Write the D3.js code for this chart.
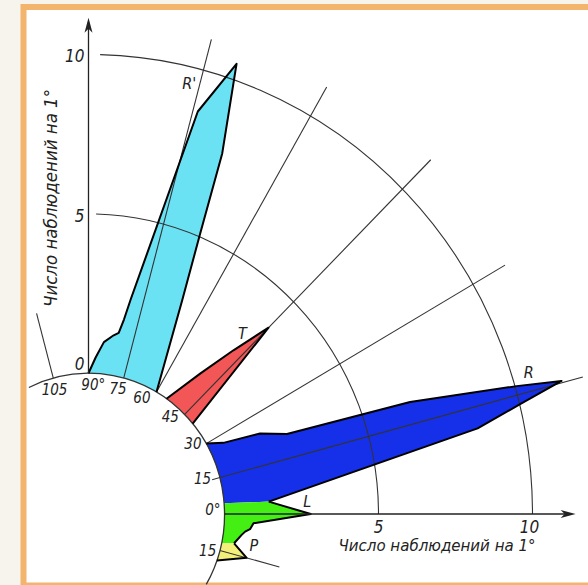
<!DOCTYPE html>
<html>
<head>
<meta charset="utf-8">
<script src="https://cdn.jsdelivr.net/npm/d3@7"></script>
<style>
    body { margin: 0; background: #f6f4ed; }
    svg { display: block; }
    text {
        font-family: "Liberation Sans Narrow", "DejaVu Sans Condensed", "Liberation Sans", sans-serif;
        font-style: italic;
        fill: #222;
    }
</style>
</head>
<body>
<svg id="chart"></svg>
<script>
// 花瓣数据：方位角（度）与每 1° 的观测数
const rPrimeAngles = [90, 87.3, 84.7, 81.7, 80.2, 79.3, 78.5, 74.3, 71.2, 69, 67.6, 65.6, 60]
const rPrimeCounts = [0, 0.5, 1.0, 1.25, 1.35, 1.8, 2.45, 8.7, 10.5, 7.7, 5.1, 2.95, 0]

const tAngles = [55, 50.5, 47.5, 45, 40]
const tCounts = [0, 1.3, 2.55, 3.85, 0]

const rAngles = [30, 27, 24.4, 21.3, 18.6, 16.1, 15.2, 13.8, 12, 3.8, 4.4]
const rCounts = [0, 0.5, 1.7, 2.5, 6.6, 10.05, 11.5, 10.0, 8.5, 1.45, 0]

const lAngles = [4.4, 3.8, 0, -3.1, -5.2, -6.2, -7.5, -11, -12]
const lCounts = [0, 1.45, 2.8, 0.95, 0.85, 0.7, 0.6, 0.4, 0]

const pAngles = [-12, -11, -15, -19.3]
const pCounts = [0, 0.4, 0.9, 0]

// 刻度
const countTicks = [0, 5, 10]
const angleTicks = [105, 90, 75, 60, 45, 30, 15, 0, -15]
const angleTickLabels = ['105', '90°', '75', '60', '45', '30', '15', '0°', '15']
const spokeAngles = [105, 75, 60, 45, 30, 15, -15]
const spokeEnds = [2.1, 11.0, 11.05, 11.3, 11.2, 12.2, 2.0]
const axisTitle = 'Число наблюдений на 1°'

const width = 588
const height = 585
const cx = 88.5
const cy = 514
const sy = 1.035

const rad = d => d * Math.PI / 180
const r = d3.scaleLinear().domain([0, 10]).range([136, 444])
const px = (a, n) => cx + r(n) * Math.cos(rad(a))
const py = (a, n) => cy - sy * r(n) * Math.sin(rad(a))

const arcPath = (n, a0, a1, move = true) => {
    const start = move ? `M${px(a0, n)},${py(a0, n)}` : ''
    const large = Math.abs(a1 - a0) > 180 ? 1 : 0
    const sweep = a0 < a1 ? 0 : 1
    return `${start}A${r(n)},${sy * r(n)} 0 ${large} ${sweep} ${px(a1, n)},${py(a1, n)}`
}

const line = d3.line().x(d => px(d.a, d.n)).y(d => py(d.a, d.n))

const petals = [
    { angles: rPrimeAngles, counts: rPrimeCounts, fill: '#6be2f3', outline: [0, 12] },
    { angles: tAngles, counts: tCounts, fill: '#f25656', outline: [0, 4] },
    { angles: rAngles, counts: rCounts, fill: '#1630ea', outline: [0, 9] },
    { angles: lAngles, counts: lCounts, fill: '#44f014', outline: [1, 7] },
    { angles: pAngles, counts: pCounts, fill: '#f2ef7a', outline: [1, 3] },
]

const svg = d3.select('#chart').attr('width', width).attr('height', height)

// 外框
svg.append('rect')
    .attr('x', 23.5).attr('y', 7)
    .attr('width', 600).attr('height', 578.5)
    .attr('fill', '#fff')
    .attr('stroke', '#f3b46d')
    .attr('stroke-width', 6)

// 花瓣填充
petals.forEach(p => {
    const pts = p.angles.map((a, i) => ({ a, n: p.counts[i] }))
    const last = p.angles[p.angles.length - 1]
    svg.append('path')
        .attr('d', line(pts) + arcPath(0, last, p.angles[0], false) + 'Z')
        .attr('fill', p.fill)
        .attr('stroke', 'none')
})

// 网格弧线
const grid = svg.append('g').attr('fill', 'none').attr('stroke', '#333').attr('stroke-width', 1.1)
countTicks.filter(n => n > 0).forEach(n => {
    grid.append('path').attr('d', arcPath(n, 0, 88.5))
})
grid.append('path').attr('d', arcPath(0, -30, 116)).attr('stroke-width', 1.3)

// 径向线
spokeAngles.forEach((a, i) => {
    grid.append('line')
        .attr('x1', px(a, 0)).attr('y1', py(a, 0))
        .attr('x2', px(a, spokeEnds[i])).attr('y2', py(a, spokeEnds[i]))
})

// 15° 标签旁的短划线
grid.append('line')
    .attr('x1', cx + 128 * Math.cos(rad(15))).attr('y1', cy - sy * 128 * Math.sin(rad(15)))
    .attr('x2', px(15, 0)).attr('y2', py(15, 0))

// 花瓣轮廓
petals.forEach(p => {
    const pts = p.angles.map((a, i) => ({ a, n: p.counts[i] }))
        .slice(p.outline[0], p.outline[1] + 1)
    svg.append('path')
        .attr('d', line(pts))
        .attr('fill', 'none')
        .attr('stroke', '#000')
        .attr('stroke-width', 2)
        .attr('stroke-linejoin', 'round')
})

// 坐标轴与箭头
const axes = svg.append('g').attr('stroke', '#222').attr('stroke-width', 1.3)
const yTop = 11.15
const xEnd = 11.4
axes.append('line')
    .attr('x1', px(90, 0)).attr('y1', py(90, 0))
    .attr('x2', px(90, yTop)).attr('y2', py(90, yTop) + 4)
axes.append('line')
    .attr('x1', px(0, 0)).attr('y1', py(0, 0))
    .attr('x2', px(0, xEnd) - 4).attr('y2', py(0, xEnd))

const tipY = [px(90, yTop), py(90, yTop)]
const tipX = [px(0, xEnd), py(0, xEnd)]
svg.append('path')
    .attr('d', `M${tipY[0]},${tipY[1]}L${tipY[0] - 4},${tipY[1] + 15}L${tipY[0]},${tipY[1] + 11}L${tipY[0] + 4},${tipY[1] + 15}Z`)
    .attr('fill', '#222')
svg.append('path')
    .attr('d', `M${tipX[0]},${tipX[1]}L${tipX[0] - 15},${tipX[1] - 4}L${tipX[0] - 11},${tipX[1]}L${tipX[0] - 15},${tipX[1] + 4}Z`)
    .attr('fill', '#222')

// 计数刻度标签
svg.append('g').selectAll('text').data(countTicks).enter()
    .append('text')
    .text(v => v)
    .attr('font-size', 17)
    .attr('text-anchor', 'end')
    .attr('x', cx - 4)
    .attr('y', v => v === 0 ? py(90, v) - 3 : py(90, v) + 8)

svg.append('g').selectAll('text').data(countTicks.filter(v => v > 0)).enter()
    .append('text')
    .text(v => v)
    .attr('font-size', 17)
    .attr('text-anchor', 'middle')
    .attr('x', v => px(0, v) - (v >= 10 ? 3 : 0))
    .attr('y', cy + 19)

// 角度刻度标签
const nudge = { 105: 0.8, 90: -2.2, 75: 1.3, 60: 4.6, 45: 3.9, 30: 3, 15: 1.5, 0: 1.8, '-15': -1.8 }
const labelR = v => v === 15 ? 119 : 124.5
svg.append('g').selectAll('text').data(angleTicks).enter()
    .append('text')
    .text((v, i) => angleTickLabels[i])
    .attr('font-size', 15)
    .attr('text-anchor', 'middle')
    .attr('dominant-baseline', 'central')
    .attr('x', v => cx + labelR(v) * Math.cos(rad(v + nudge[v])))
    .attr('y', v => cy - sy * labelR(v) * Math.sin(rad(v + nudge[v])))

// 花瓣名称
const names = [
    { t: "R'", a: 76.4, n: 9.48 },
    { t: 'T', a: 48.6, n: 3.14 },
    { t: 'R', a: 17.2, n: 10.55 },
    { t: 'L', a: 3.1, n: 2.7 },
    { t: 'P', a: -10.3, n: 1.04 },
]
svg.append('g').selectAll('text').data(names).enter()
    .append('text')
    .text(d => d.t)
    .attr('font-size', 16)
    .attr('text-anchor', 'middle')
    .attr('dominant-baseline', 'central')
    .attr('x', d => px(d.a, d.n))
    .attr('y', d => py(d.a, d.n))

// 轴标题
svg.append('text')
    .text(axisTitle)
    .attr('font-size', 17)
    .attr('text-anchor', 'middle')
    .attr('textLength', 218)
    .attr('lengthAdjust', 'spacingAndGlyphs')
    .attr('transform', 'translate(57, 198) rotate(-90)')

svg.append('text')
    .text(axisTitle)
    .attr('font-size', 16)
    .attr('text-anchor', 'middle')
    .attr('textLength', 197)
    .attr('lengthAdjust', 'spacingAndGlyphs')
    .attr('x', 437)
    .attr('y', 551)
</script>
</body>
</html>
